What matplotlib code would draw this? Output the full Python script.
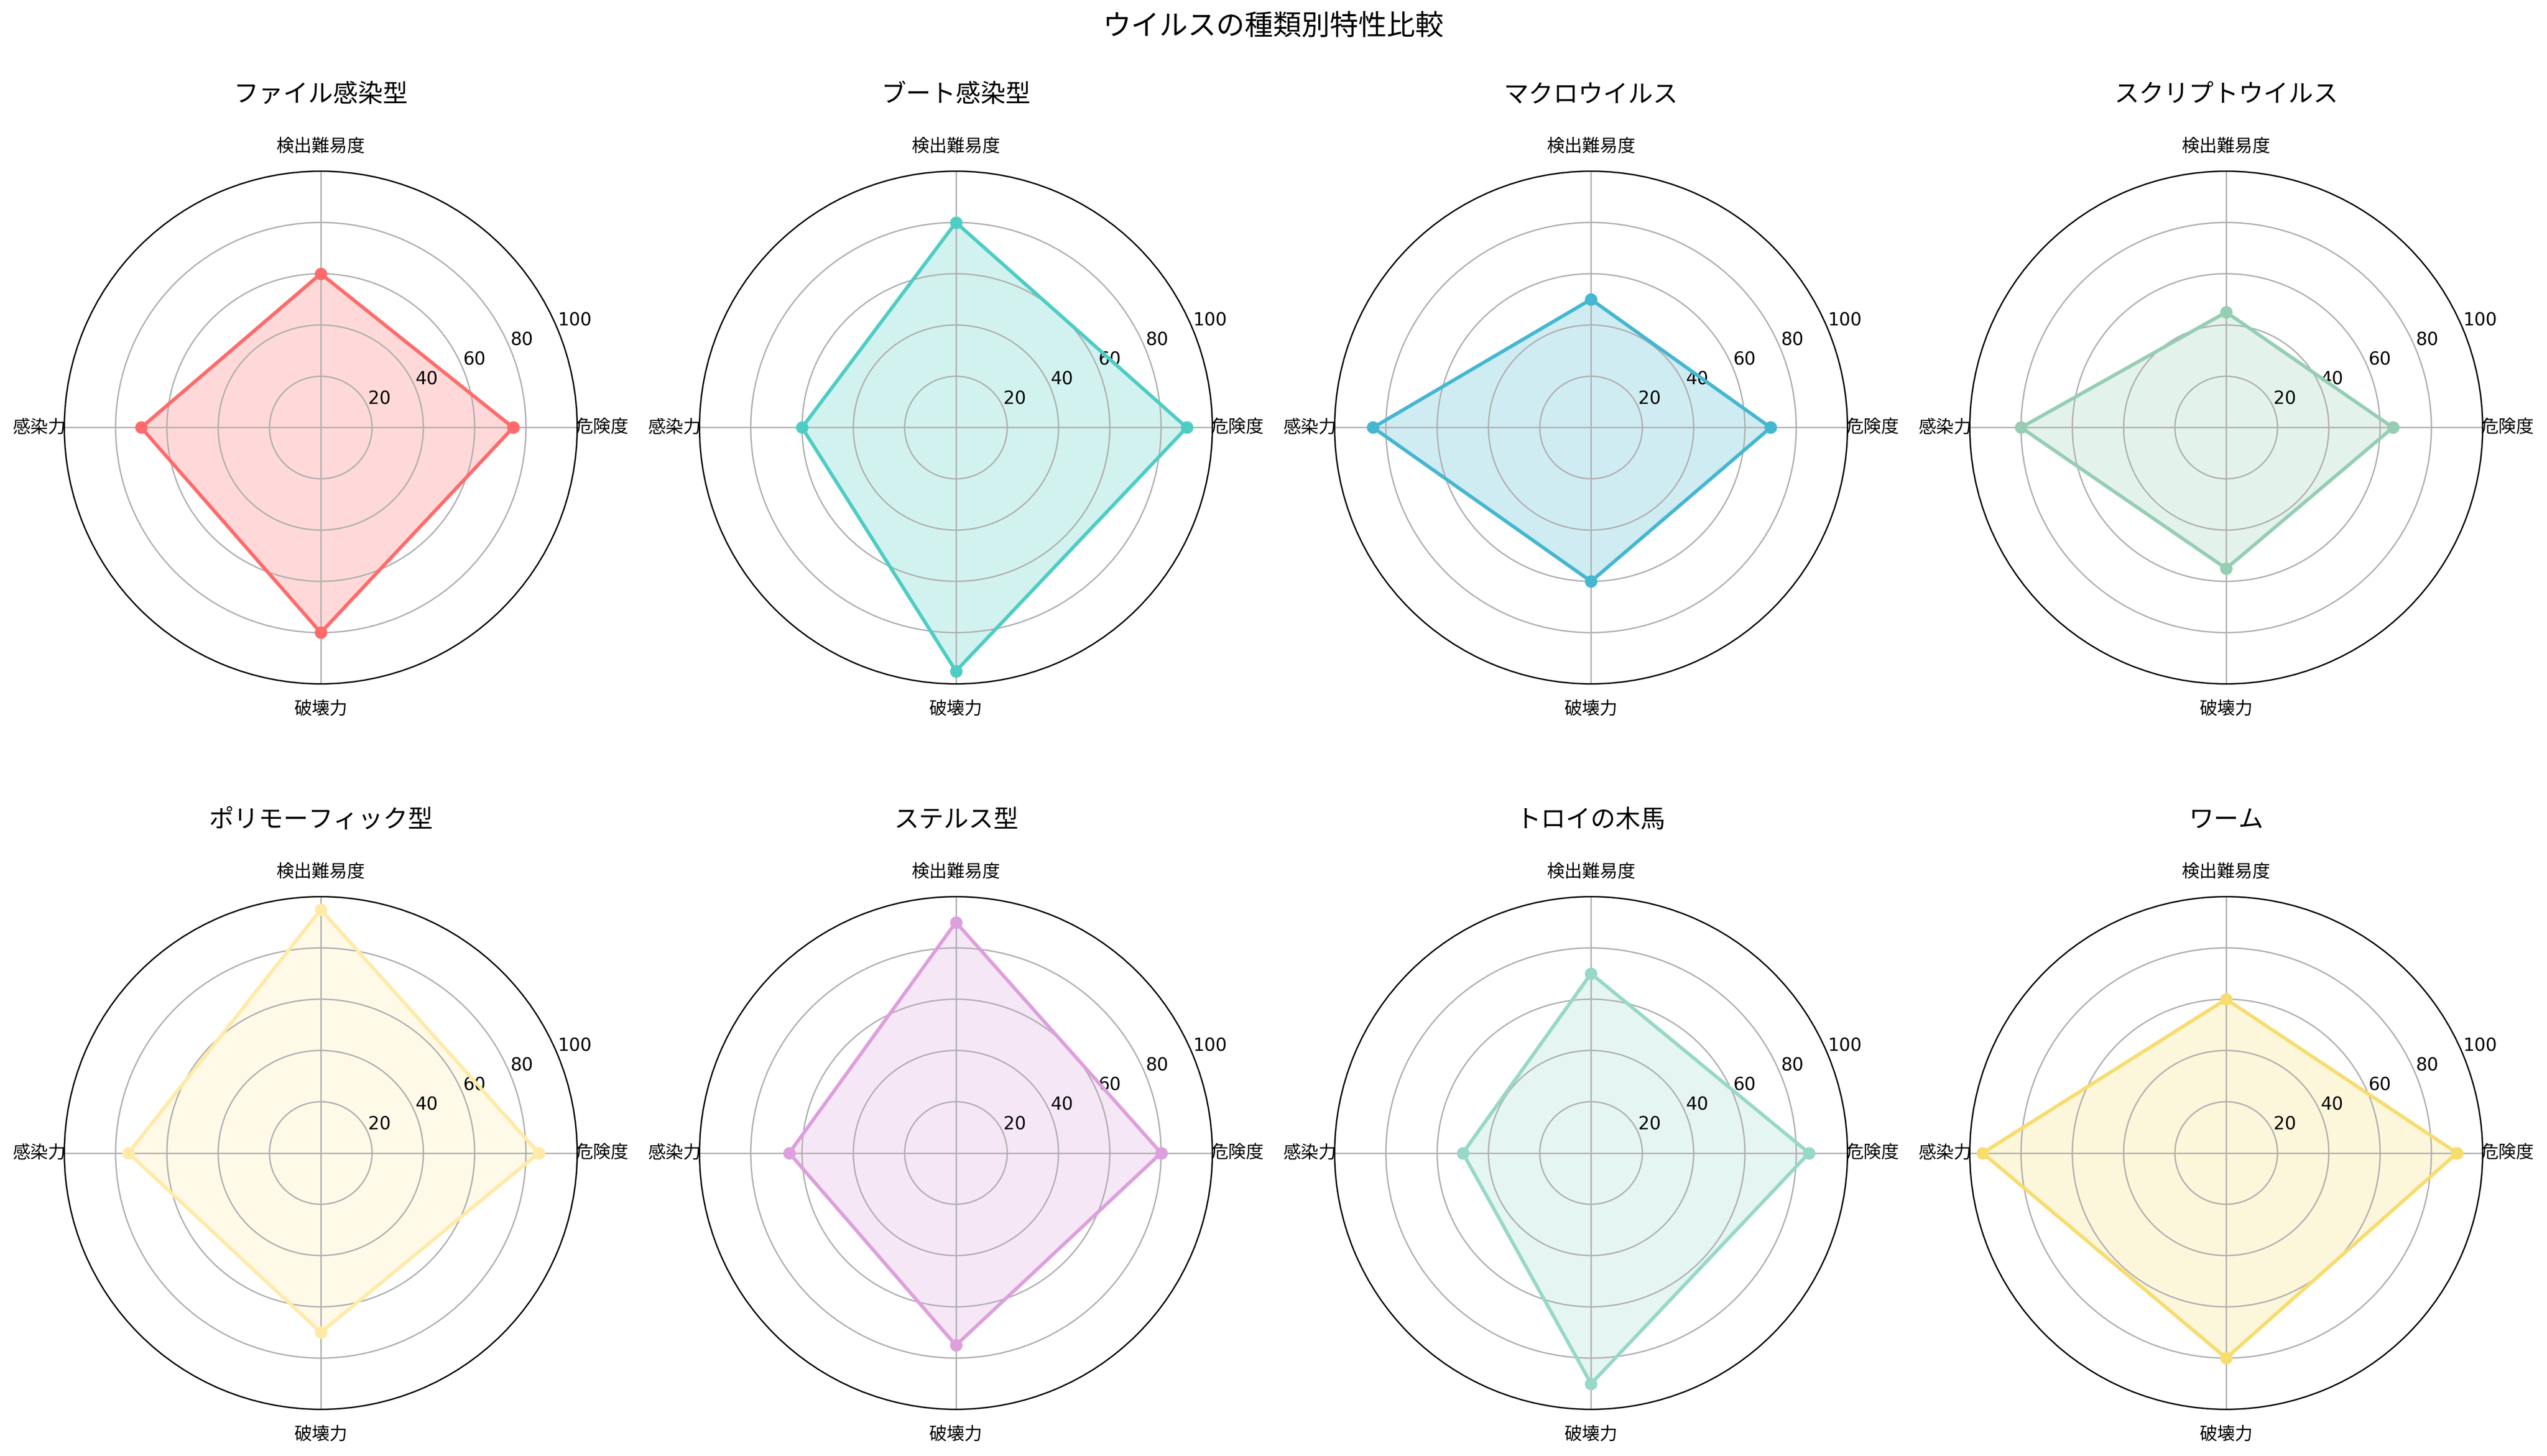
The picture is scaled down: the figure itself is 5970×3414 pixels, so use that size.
import numpy as np
import matplotlib
matplotlib.use('Agg')
import matplotlib.pyplot as plt

plt.rcParams['font.family'] = ['DejaVu Sans', 'Noto Sans CJK JP']

# 評価項目（0°から反時計回り）
categories = ['危険度', '検出難易度', '感染力', '破壊力']

virus_types = ['ファイル感染型', 'ブート感染型', 'マクロウイルス', 'スクリプトウイルス',
               'ポリモーフィック型', 'ステルス型', 'トロイの木馬', 'ワーム']

# 各ウイルスの値 [危険度, 検出難易度, 感染力, 破壊力]
file_infector = [75, 60, 70, 80]
boot_sector = [90, 80, 60, 95]
macro_virus = [70, 50, 85, 60]
script_virus = [65, 45, 80, 55]
polymorphic = [85, 95, 75, 70]
stealth = [80, 90, 65, 75]
trojan = [85, 70, 50, 90]
worm = [90, 60, 95, 80]

values = [file_infector, boot_sector, macro_virus, script_virus,
          polymorphic, stealth, trojan, worm]

colors = ['#FF6B6B', '#4ECDC4', '#45B7D1', '#96CEB4',
          '#FFEAA7', '#DDA0DD', '#98D8C8', '#F7DC6F']

angles = np.linspace(0, 2 * np.pi, len(categories), endpoint=False).tolist()
angles += angles[:1]

fig, axes = plt.subplots(2, 4, figsize=(20, 12), subplot_kw=dict(polar=True))

for ax, name, vals, color in zip(axes.flat, virus_types, values, colors):
    data = vals + vals[:1]
    ax.plot(angles, data, 'o-', linewidth=2, color=color)
    ax.fill(angles, data, alpha=0.25, color=color)
    ax.set_xticks(angles[:-1])
    ax.set_xticklabels(categories)
    ax.set_ylim(0, 100)
    ax.set_yticks([20, 40, 60, 80, 100])
    ax.set_title(name, fontsize=14, pad=20)
    ax.grid(True)

fig.suptitle('ウイルスの種類別特性比較', fontsize=16)
plt.tight_layout()
plt.savefig('out.png', dpi=300, bbox_inches='tight')
